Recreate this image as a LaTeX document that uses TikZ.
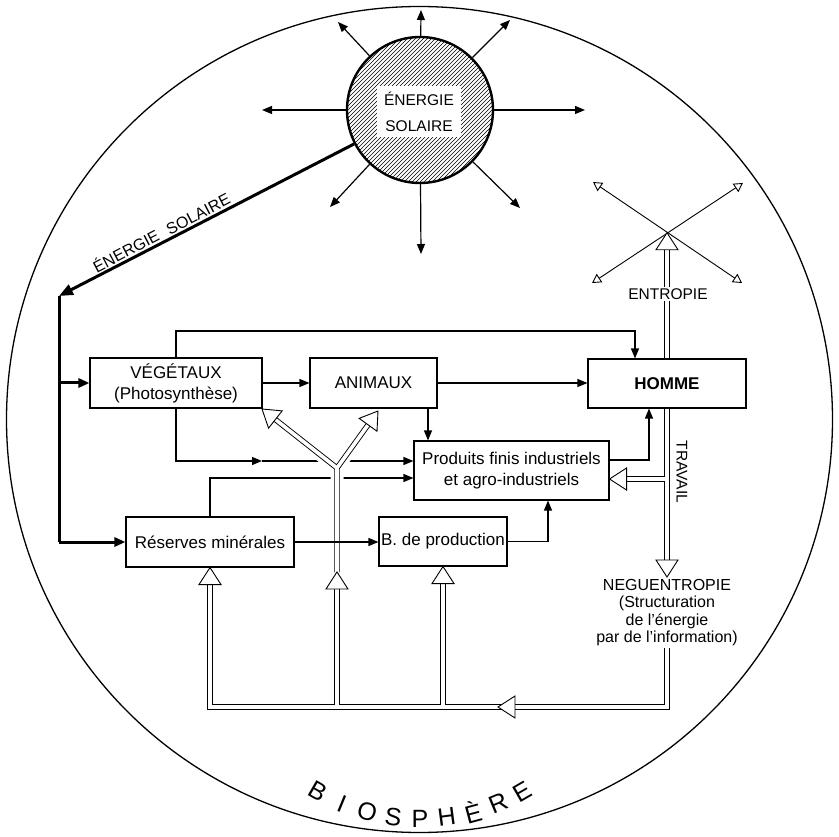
\documentclass[tikz,border=0pt]{standalone}
\usepackage{fontspec}
\setmainfont{Liberation Sans}
\usepackage{tikz}
\usetikzlibrary{arrows.meta,calc}

\begin{document}
\begin{tikzpicture}[x=1pt,y=-1pt,
  box/.style={draw,line width=1.1pt,inner sep=2pt,align=center,font=\fontsize{17}{21}\selectfont},
  arr/.style={line width=1.2pt,-{Triangle[length=10pt,width=8pt]}},
  energy/.style={line width=3pt},
  dbl/.style={draw,double,double distance=3.6pt,line width=0.9pt},
  xarr/.style={line width=0.9pt,{Triangle[open,length=9pt,width=10pt]}-{Triangle[open,length=9pt,width=10pt]}},
  lbl/.style={font=\fontsize{15.5}{18}\selectfont},
  hhead/.pic={\draw[fill=white,line width=0.9pt] (0pt,0pt) -- (-17pt,11pt) -- (-17pt,-11pt) -- cycle;}]
\useasboundingbox (0,0) rectangle (839,837);
\node[circle,draw,line width=1.3pt,minimum size=826pt,inner sep=0pt] (Bio) at (419.5,419.5) {};

\begin{scope}
\clip (420,110) circle (73pt);
\foreach \d in {-160,-156,...,160} \draw[line width=0.6pt] ({340+\d},190) -- ({500+\d},30);
\end{scope}
\node[circle,draw,line width=2.4pt,minimum size=146pt,inner sep=0pt] (Sun) at (420,110) {};
\node[fill=white,inner sep=0pt,minimum width=84pt,minimum height=51pt,align=center,font=\fontsize{15.5}{26}\selectfont] (SunLabel) at (419,112) {ÉNERGIE\\SOLAIRE};
\foreach \x/\y [count=\i] in {421/10,338/22,510/20,262/110,585/110,330/207,520/208,421/254}
  {\coordinate (Ray\i) at (\x,\y); \draw[arr] (Sun) -- (Ray\i);}

\node[box,minimum width=172pt,minimum height=50pt] (Vegetaux) at (176,383) {VÉGÉTAUX\\(Photosynthèse)};
\node[box,minimum width=127pt,minimum height=50pt] (Animaux) at (373.5,383) {ANIMAUX};
\node[box,minimum width=158pt,minimum height=49pt] (Homme) at (667,383.5) {\textbf{HOMME}};
\node[box,minimum width=195pt,minimum height=59pt] (Produits) at (511.5,470.5) {Produits finis industriels\\et agro-industriels};
\node[box,minimum width=168pt,minimum height=50pt] (Reserves) at (210,542) {Réserves minérales};
\node[box,minimum width=128pt,minimum height=49pt,inner sep=1pt] (Production) at (443,541.5) {B. de production};

\coordinate (Corner) at (59,296);
\draw[energy,-{Triangle[length=14pt,width=11pt]}] (Sun) -- (Corner);
\node[rotate=27.5,font=\fontsize{16}{18}\selectfont] (EnLabel) at (161,232) {ÉNERGIE\hspace{6pt} SOLAIRE};
\draw[energy] (Corner) -- (Corner |- Reserves.west);
\draw[energy,-{Triangle[length=11pt,width=9pt]}] (Corner |- Vegetaux.west) -- (Vegetaux.west);
\draw[energy,-{Triangle[length=11pt,width=9pt]}] (Corner |- Reserves.west) -- (Reserves.west);

\draw[arr] (Vegetaux) -- (Animaux);
\draw[arr] (Animaux.east) -- (Animaux.east -| Homme.west);
\coordinate (Top) at (635,331);
\draw[arr] (Vegetaux.north) |- (Top) -- (Top |- Homme.north);
\coordinate (Low1) at (176,461);
\coordinate (Mid1) at (262,461);
\draw[arr] (Vegetaux.south) -- (Low1) -- (Mid1);
\draw[arr] (Mid1) -- (Mid1 -| Produits.west);
\coordinate (Low2) at (210,478);
\draw[arr] (Reserves.north) -- (Low2) -- (Low2 -| Produits.west);

\coordinate (Fork) at (337,468);
\coordinate (StemTip) at (337,572);
\coordinate (LeftTip) at (262,409);
\coordinate (RightTip) at (378,411);
\coordinate (LeftBase) at ($(LeftTip)!17pt!(Fork)$);
\coordinate (RightBase) at ($(RightTip)!17pt!(Fork)$);
\draw[white,line width=13pt] (StemTip) -- (Fork) -- (LeftBase) (Fork) -- (RightBase);
\draw[dbl] (StemTip) -- (Fork) -- (LeftBase) (Fork) -- (RightBase);
\pic[rotate=141.8] at (LeftTip) {hhead};
\pic[rotate=54.3] at (RightTip) {hhead};

\draw[arr] (Reserves.east) -- (Reserves.east -| Production.west);
\draw[arr] (Production.east) -| ([xshift=36.5pt]Produits.south);
\draw[arr] ([xshift=54.5pt]Animaux.south) -- ([xshift=54.5pt]Animaux.south |- Produits.north);
\draw[arr] ([yshift=10.5pt]Produits.east) -| ([xshift=-18pt]Homme.south);

\coordinate (XA) at (593,182);
\coordinate (XB) at (742,283);
\coordinate (XC) at (743,183);
\coordinate (XD) at (592,283);
\draw[xarr] (XA) -- (XB);
\draw[xarr] (XC) -- (XD);
\coordinate (XMid) at (intersection of XA--XB and XC--XD);
\coordinate (EntBase) at ($(XMid)+(0,17)$);
\draw[dbl] (Homme.north) -- (Homme.north |- EntBase);
\pic[rotate=90] at (Homme.north |- XMid) {hhead};
\node[lbl,fill=white,inner sep=1.5pt] (EntLabel) at (668,294) {ENTROPIE};

\node[anchor=north,align=center,inner sep=2pt,font=\fontsize{16}{17.5}\selectfont] (Neg) at (667,577) {NEGUENTROPIE\\(Structuration\\de l’énergie\\par de l’information)};
\coordinate (PTip) at ([yshift=-8.5pt]Produits.east);
\draw[dbl] (Homme.south) -- ($(Neg.north)+(0,-17)$) (PTip -| Homme.south) -- ($(PTip)+(17,0)$);
\pic[rotate=-90] at (Neg.north) {hhead};
\pic[rotate=180] at (PTip) {hhead};
\node[lbl,rotate=-90] (TrLabel) at (682,472) {TRAVAIL};

\coordinate (LoopR) at (667,707);
\coordinate (LoopL) at (210,707);
\coordinate (LoopTip) at (498,707);
\draw[dbl] (Neg.south) -- (LoopR) -- (LoopL) -- ($(Reserves.south)+(0,17)$)
  (LoopL -| StemTip) -- ($(StemTip)+(0,17)$)
  (LoopL -| Production.south) -- ($(Production.south)+(0,17)$);
\pic[rotate=90] at (Reserves.south) {hhead};
\pic[rotate=90] at (StemTip) {hhead};
\pic[rotate=90] at (Production.south) {hhead};
\pic[rotate=180] at (LoopTip) {hhead};

\foreach \ch [count=\i] in {B,I,O,S,P,H,È,R,E}
  {\pgfmathsetmacro{\a}{-30+7.5*(\i-1)}
   \node[rotate=\a,inner sep=0pt,font=\fontsize{25}{28}\selectfont] (Letter\i) at ({420+204*sin(\a)},{615+204*cos(\a)}) {\ch};}
\end{tikzpicture}
\end{document}
